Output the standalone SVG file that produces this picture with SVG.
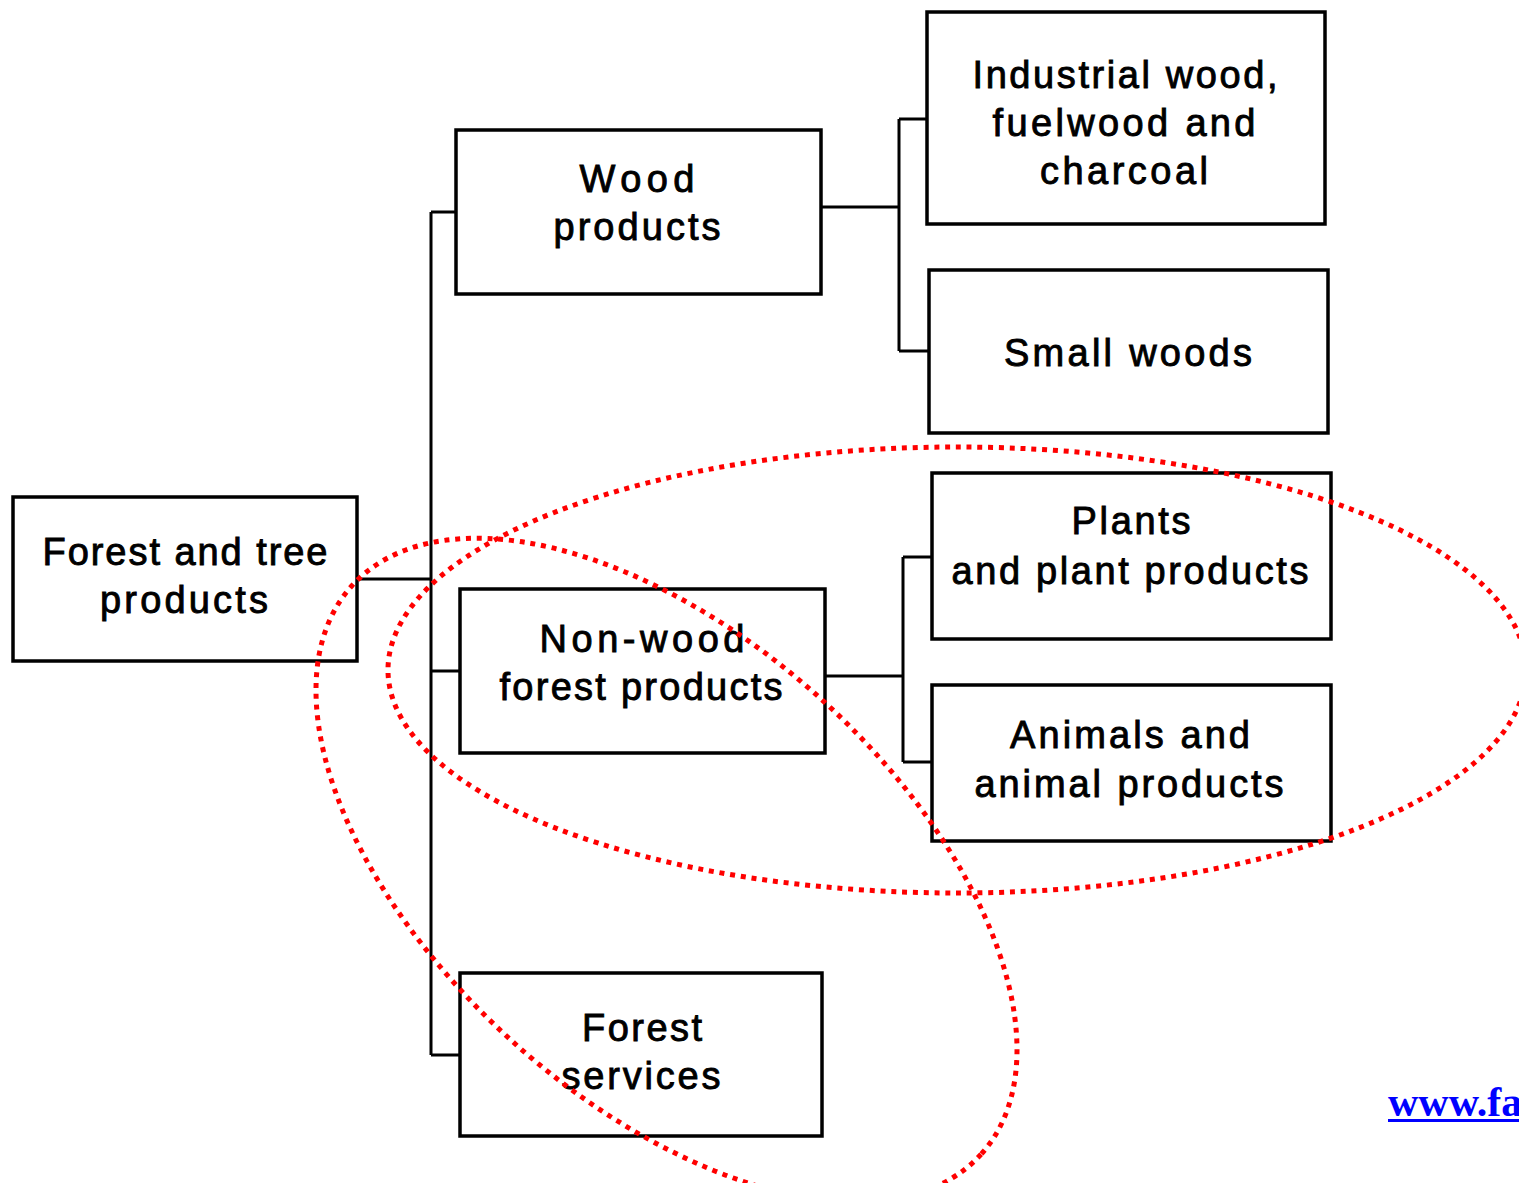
<svg xmlns="http://www.w3.org/2000/svg" width="1519" height="1183" viewBox="0 0 1519 1183">
<style>
.box{fill:#fff;stroke:#000;stroke-width:3.5}
.lbl{font-family:"Liberation Sans",Arial,sans-serif;font-size:38px;fill:#000;stroke:#000;stroke-width:0.9;text-anchor:middle}
.conn{fill:none;stroke:#000;stroke-width:3}
.ring{fill:none;stroke:#f00;stroke-width:5;stroke-dasharray:5 5.8}
.link{font-family:"Liberation Serif","Times New Roman",serif;font-weight:bold;font-size:42px;fill:#00f}
</style>
<rect width="1519" height="1183" fill="#fff"/>
<g id="connectors">
<path class="conn" d="M357 579H431M431 212V1055M431 212H456M431 671H460M431 1055H460"/>
<path class="conn" d="M821 207H899M899 119V351M899 119H927M899 351H929"/>
<path class="conn" d="M825 676H903M903 557V762M903 557H932M903 762H932"/>
</g>
<g id="root">
<rect class="box" x="13" y="497" width="344" height="164"/>
<text class="lbl" x="185" y="565" textLength="285" lengthAdjust="spacing">Forest and tree</text>
<text class="lbl" x="184" y="613" textLength="168" lengthAdjust="spacing">products</text>
</g>
<g id="wood">
<rect class="box" x="456" y="130" width="365" height="164"/>
<text class="lbl" x="637" y="192" textLength="115" lengthAdjust="spacing">Wood</text>
<text class="lbl" x="637" y="240" textLength="167" lengthAdjust="spacing">products</text>
</g>
<g id="nonwood">
<rect class="box" x="460" y="589" width="365" height="164"/>
<text class="lbl" x="642" y="652" textLength="205" lengthAdjust="spacing">Non-wood</text>
<text class="lbl" x="641" y="700" textLength="283" lengthAdjust="spacing">forest products</text>
</g>
<g id="services">
<rect class="box" x="460" y="973" width="362" height="163"/>
<text class="lbl" x="642" y="1041" textLength="120" lengthAdjust="spacing">Forest</text>
<text class="lbl" x="641" y="1089" textLength="159" lengthAdjust="spacing">services</text>
</g>
<g id="industrial">
<rect class="box" x="927" y="12" width="398" height="212"/>
<text class="lbl" x="1125" y="88" textLength="305" lengthAdjust="spacing">Industrial wood,</text>
<text class="lbl" x="1124" y="136" textLength="263" lengthAdjust="spacing">fuelwood and</text>
<text class="lbl" x="1124" y="184" textLength="168" lengthAdjust="spacing">charcoal</text>
</g>
<g id="smallwoods">
<rect class="box" x="929" y="270" width="399" height="163"/>
<text class="lbl" x="1128" y="366" textLength="248" lengthAdjust="spacing">Small woods</text>
</g>
<g id="plants">
<rect class="box" x="932" y="473" width="399" height="166"/>
<text class="lbl" x="1131" y="534" textLength="119" lengthAdjust="spacing">Plants</text>
<text class="lbl" x="1130" y="584" textLength="357" lengthAdjust="spacing">and plant products</text>
</g>
<g id="animals">
<rect class="box" x="932" y="685" width="399" height="156"/>
<text class="lbl" x="1130" y="748" textLength="240" lengthAdjust="spacing">Animals and</text>
<text class="lbl" x="1129" y="797" textLength="309" lengthAdjust="spacing">animal products</text>
</g>
<g id="highlights">
<ellipse class="ring" cx="957" cy="670" rx="569" ry="223"/>
<ellipse class="ring" cx="666.5" cy="870" rx="424" ry="230.5" transform="rotate(42.1 666.5 870)"/>
</g>
<g id="link">
<text class="link" x="1388" y="1116">www.fa</text>
<rect x="1388" y="1119" width="140" height="3" fill="#00f"/>
</g>
</svg>
